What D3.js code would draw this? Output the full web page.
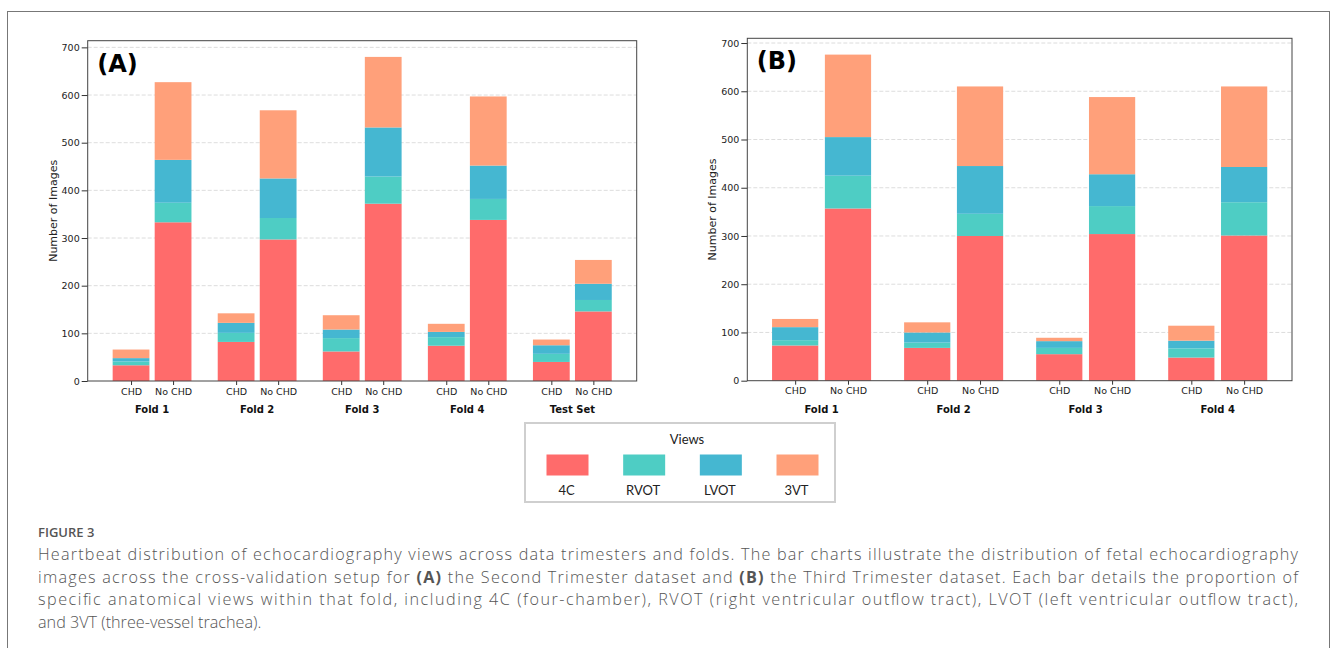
<!DOCTYPE html>
<html>
<head>
<meta charset="utf-8">
<script src="https://cdn.jsdelivr.net/npm/d3@7/dist/d3.min.js"></script>
<style>
  body { margin: 0; background: #fff; }
  svg { display: block; }
  .tick text { font-family: "DejaVu Sans", sans-serif; fill: #222; }
</style>
</head>
<body>
<svg id="fig" width="1331" height="648"></svg>
<script>
// views (stack order, bottom to top) and their colours
var views = ["4C", "RVOT", "LVOT", "3VT"];
var viewColors = ["#FF6B6B", "#4ECDC4", "#45B7D1", "#FFA07A"];
var subLabels = ["CHD", "No CHD"];

// (A) Second Trimester: bars ordered CHD, No CHD per group
var groupsA = ["Fold 1", "Fold 2", "Fold 3", "Fold 4", "Test Set"];
var a4C   = [33, 333, 82, 297, 62, 372, 74, 338, 40, 146];
var aRVOT = [8, 41, 19, 45, 28, 57, 18, 44, 17, 24];
var aLVOT = [7, 90, 21, 83, 18, 103, 11, 70, 18, 34];
var a3VT  = [18, 163, 20, 143, 30, 148, 17, 145, 12, 50];

// (B) Third Trimester
var groupsB = ["Fold 1", "Fold 2", "Fold 3", "Fold 4"];
var b4C   = [73, 357, 68, 300, 55, 304, 48, 301];
var bRVOT = [11, 68, 11, 46, 13, 58, 19, 69];
var bLVOT = [27, 80, 21, 99, 14, 66, 16, 73];
var b3VT  = [17, 171, 21, 165, 7, 160, 31, 167];

var yTicks = [0, 100, 200, 300, 400, 500, 600, 700];

var captionLines = [
  "Heartbeat distribution of echocardiography views across data trimesters and folds. The bar charts illustrate the distribution of fetal echocardiography",
  ["images across the cross-validation setup for ", "(A)", " the Second Trimester dataset and ", "(B)", " the Third Trimester dataset. Each bar details the proportion of"],
  "specific anatomical views within that fold, including 4C (four-chamber), RVOT (right ventricular outflow tract), LVOT (left ventricular outflow tract),",
  "and 3VT (three-vessel trachea)."
];

var svg = d3.select("#fig");

// outer frame
svg.append("rect")
  .attr("x", 7.5).attr("y", 11.5)
  .attr("width", 1322).attr("height", 700)
  .attr("fill", "none").attr("stroke", "#777").attr("stroke-width", 1);

function buildRows(groups, s4C, sRVOT, sLVOT, s3VT) {
  var rows = [];
  for (var g = 0; g < groups.length; g++) {
    for (var k = 0; k < 2; k++) {
      var i = g * 2 + k;
      rows.push({ pos: g + (k === 0 ? -0.2 : 0.2), sub: subLabels[k],
        "4C": s4C[i], "RVOT": sRVOT[i], "LVOT": sLVOT[i], "3VT": s3VT[i] });
    }
  }
  return rows;
}

function drawPanel(box, groups, rows, letter) {
  var barW = 0.35;
  var lo = -0.2 - barW / 2, hi = groups.length - 1 + 0.2 + barW / 2;
  var pad = (hi - lo) * 0.05;
  var x = d3.scaleLinear().domain([lo - pad, hi + pad]).range([box.left, box.right]);

  var totals = rows.map(function(r) { return r["4C"] + r["RVOT"] + r["LVOT"] + r["3VT"]; });
  var y = d3.scaleLinear().domain([0, d3.max(totals) * 1.05]).range([box.bottom, box.top]);

  var g = svg.append("g");

  // dashed grid
  g.append("g").selectAll("line")
    .data(yTicks.filter(function(t) { return t > 0; }))
    .enter().append("line")
      .attr("x1", box.left).attr("x2", box.right)
      .attr("y1", function(d) { return y(d); })
      .attr("y2", function(d) { return y(d); })
      .attr("stroke", "#d4d4d4").attr("stroke-width", 0.8)
      .attr("stroke-dasharray", "4,2");

  var stack = d3.stack().keys(views);
  var layers = stack(rows);
  var color = d3.scaleOrdinal().domain(views).range(viewColors);

  g.append("g").selectAll("g")
    .data(layers)
    .enter().append("g")
      .attr("fill", function(d) { return color(d.key); })
    .selectAll("rect")
    .data(function(d) { return d; })
    .enter().append("rect")
      .attr("x", function(d) { return x(d.data.pos - barW / 2); })
      .attr("width", function(d) { return x(barW) - x(0); })
      .attr("y", function(d) { return y(d[1]); })
      .attr("height", function(d) { return y(d[0]) - y(d[1]); });

  // axes
  var yAxis = d3.axisLeft(y).tickValues(yTicks).tickSize(6).tickPadding(2);
  var ya = g.append("g").attr("transform", "translate(" + box.left + ",0)").call(yAxis);
  ya.selectAll("text").attr("font-size", 9.5);

  var xAxis = d3.axisBottom(x)
    .tickValues(rows.map(function(r) { return r.pos; }))
    .tickFormat(function(d, i) { return rows[i].sub; })
    .tickSize(4).tickPadding(3);
  var xa = g.append("g").attr("transform", "translate(0," + box.bottom + ")").call(xAxis);
  xa.selectAll("text").attr("font-size", 9.5);
  [ya, xa].forEach(function(a) {
    a.select(".domain").remove();
    a.selectAll(".tick line").attr("stroke", "#333");
  });

  // frame of the axes
  g.append("rect")
    .attr("x", box.left).attr("y", box.top)
    .attr("width", box.right - box.left).attr("height", box.bottom - box.top)
    .attr("fill", "none").attr("stroke", "#444").attr("stroke-width", 1);

  // group labels
  g.append("g").selectAll("text")
    .data(groups)
    .enter().append("text")
      .attr("x", function(d, i) { return x(i); })
      .attr("y", box.bottom + 32)
      .attr("text-anchor", "middle")
      .attr("font-family", "DejaVu Sans, sans-serif")
      .attr("font-weight", "bold")
      .attr("font-size", 10)
      .attr("fill", "#111")
      .text(function(d) { return d; });

  // y label
  g.append("text")
    .attr("transform", "translate(" + (box.left - 31) + "," + ((box.top + box.bottom) / 2) + ") rotate(-90)")
    .attr("text-anchor", "middle")
    .attr("font-family", "DejaVu Sans, sans-serif")
    .attr("font-size", 11)
    .attr("fill", "#222")
    .text("Number of Images");

  // panel letter
  g.append("text")
    .attr("x", box.left + 9.5).attr("y", box.top + 31)
    .attr("font-family", "DejaVu Sans, sans-serif")
    .attr("font-weight", "bold")
    .attr("font-size", 24)
    .attr("fill", "#000")
    .text(letter);
}

drawPanel({ left: 87.7, right: 636.7, top: 40.7, bottom: 381 }, groupsA,
  buildRows(groupsA, a4C, aRVOT, aLVOT, a3VT), "(A)");
drawPanel({ left: 747.3, right: 1292, top: 38.3, bottom: 380.7 }, groupsB,
  buildRows(groupsB, b4C, bRVOT, bLVOT, b3VT), "(B)");

// legend
var legend = svg.append("g");
legend.append("rect")
  .attr("x", 525).attr("y", 423)
  .attr("width", 310).attr("height", 79)
  .attr("fill", "#fff").attr("stroke", "#cfcfcf").attr("stroke-width", 2);
legend.append("text")
  .attr("x", 687).attr("y", 444)
  .attr("text-anchor", "middle")
  .attr("font-family", "Lato, sans-serif").attr("font-size", 13)
  .attr("fill", "#222")
  .text("Views");
var lx = d3.scalePoint().domain(views).range([567.5, 797.5]);
var item = legend.selectAll("g.item")
  .data(views)
  .enter().append("g").attr("class", "item");
item.append("rect")
  .attr("x", function(d) { return lx(d) - 21; })
  .attr("y", 454.5).attr("width", 42).attr("height", 21)
  .attr("fill", function(d, i) { return viewColors[i]; });
item.append("text")
  .attr("x", function(d) { return lx(d) - 1; })
  .attr("y", 495)
  .attr("text-anchor", "middle")
  .attr("font-family", "Lato, sans-serif").attr("font-size", 13)
  .attr("fill", "#222")
  .text(function(d) { return d; });

// caption
var cap = svg.append("g")
  .attr("font-family", "'Open Sans', sans-serif")
  .attr("fill", "#555");
cap.append("text")
  .attr("x", 38).attr("y", 537)
  .attr("font-size", 13).attr("font-weight", 600)
  .text("FIGURE 3");
captionLines.forEach(function(line, i) {
  var t = cap.append("text")
    .attr("x", 38).attr("y", 560 + i * 22.5)
    .attr("font-size", 16.2).attr("font-weight", 300);
  if (i < 3) t.attr("textLength", 1260).attr("lengthAdjust", "spacing");
  if (Array.isArray(line)) {
    line.forEach(function(part) {
      t.append("tspan")
        .attr("font-weight", part === "(A)" || part === "(B)" ? 700 : 300)
        .text(part);
    });
  } else {
    t.text(line);
  }
});
</script>
</body>
</html>
